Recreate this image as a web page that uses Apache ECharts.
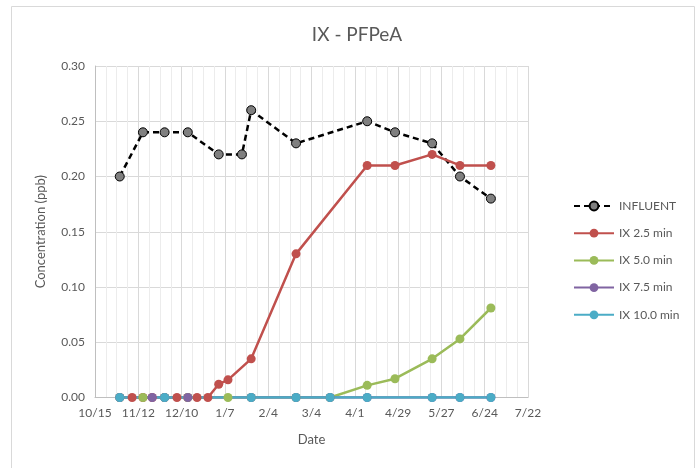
<!DOCTYPE html>
<html>
<head>
    <meta charset="utf-8" />
    <title>IX - PFPeA</title>
    <script src="https://cdn.jsdelivr.net/npm/echarts@6/dist/echarts.min.js"></script>
    <style>
        html, body { margin: 0; padding: 0; background: #fff; }
        #main { width: 700px; height: 468px; }
    </style>
</head>
<body>
    <div id="main"></div>
    <script type="text/javascript">
        // sampling dates (M/D, Oct 2018 - Jun 2019) and concentrations in ppb
        var influentDates = ['10/31', '11/15', '11/29', '12/14', '1/3', '1/18', '1/24', '2/22', '4/9', '4/27', '5/21', '6/8', '6/28'];
        var influentVals = [0.20, 0.24, 0.24, 0.24, 0.22, 0.22, 0.26, 0.23, 0.25, 0.24, 0.23, 0.20, 0.18];

        var ix25Dates = ['10/31', '11/8', '11/15', '11/21', '11/29', '12/7', '12/14', '12/20', '12/27', '1/3', '1/9', '1/24', '2/22', '4/9', '4/27', '5/21', '6/8', '6/28'];
        var ix25Vals = [0, 0, 0, 0, 0, 0, 0, 0, 0, 0.012, 0.016, 0.035, 0.13, 0.21, 0.21, 0.22, 0.21, 0.21];

        var ix50Dates = ['10/31', '11/15', '11/29', '12/14', '1/9', '1/24', '2/22', '3/16', '4/9', '4/27', '5/21', '6/8', '6/28'];
        var ix50Vals = [0, 0, 0, 0, 0, 0, 0, 0, 0.011, 0.017, 0.035, 0.053, 0.081];

        var ix75Dates = ['10/31', '11/21', '11/29', '12/14', '1/24', '2/22', '3/16', '4/9', '5/21', '6/8', '6/28'];
        var ix75Vals = [0, 0, 0, 0, 0, 0, 0, 0, 0, 0, 0];

        var ix100Dates = ['10/31', '11/29', '1/24', '2/22', '3/16', '4/9', '5/21', '6/8', '6/28'];
        var ix100Vals = [0, 0, 0, 0, 0, 0, 0, 0, 0];

        var seriesNames = ['INFLUENT', 'IX 2.5 min', 'IX 5.0 min', 'IX 7.5 min', 'IX 10.0 min'];
        var colors = ['#7f7f7f', '#C0504D', '#9BBB59', '#8064A2', '#4BACC6'];

        // x axis is days since 10/15/2018, ticks every 28 days
        var DAY = 86400000;
        var start = Date.UTC(2018, 9, 15);
        function toDay(md) {
            var p = md.split('/');
            var m = +p[0], d = +p[1];
            var y = m >= 10 ? 2018 : 2019;
            return Math.round((Date.UTC(y, m - 1, d) - start) / DAY);
        }
        function dayLabel(v) {
            var t = new Date(start + v * DAY);
            return (t.getUTCMonth() + 1) + '/' + t.getUTCDate();
        }
        function pairs(dates, vals) {
            return dates.map(function (d, i) { return [toDay(d), vals[i]]; });
        }

        var allData = [
            pairs(influentDates, influentVals),
            pairs(ix25Dates, ix25Vals),
            pairs(ix50Dates, ix50Vals),
            pairs(ix75Dates, ix75Vals),
            pairs(ix100Dates, ix100Vals)
        ];

        var font = 'Lato, "Open Sans", sans-serif';
        var textColor = '#595959';

        var series = seriesNames.map(function (name, i) {
            var s = {
                name: name,
                type: 'line',
                data: allData[i],
                symbol: 'circle',
                symbolSize: 9,
                animation: false,
                itemStyle: { color: colors[i] },
                lineStyle: { color: colors[i], width: 2.5 }
            };
            if (i === 0) {
                s.lineStyle = { color: '#000', width: 2.5, type: [6, 4] };
                s.itemStyle = { color: '#7f7f7f', borderColor: '#000', borderWidth: 1 };
            }
            return s;
        });

        var myChart = echarts.init(document.getElementById('main'));
        myChart.setOption({
            animation: false,
            textStyle: { fontFamily: font },
            title: {
                text: 'IX - PFPeA',
                left: 352,
                textAlign: 'center',
                top: 20,
                textStyle: { fontFamily: font, fontSize: 19, fontWeight: 'normal', color: textColor }
            },
            graphic: [{
                type: 'rect',
                shape: { x: 11.5, y: 6.5, width: 683, height: 480 },
                style: { fill: 'none', stroke: '#d9d9d9', lineWidth: 1 },
                silent: true
            }],
            legend: {
                orient: 'vertical',
                left: 568,
                top: 195,
                itemWidth: 40,
                itemHeight: 11,
                itemGap: 15.2,
                data: seriesNames,
                textStyle: { fontFamily: font, fontSize: 12, color: textColor }
            },
            grid: {
                left: 95,
                right: 172,
                top: 66,
                bottom: 70.5
            },
            xAxis: {
                type: 'value',
                min: 0,
                max: 280,
                interval: 28,
                name: 'Date',
                nameLocation: 'middle',
                nameGap: 36,
                nameTextStyle: { fontFamily: font, fontSize: 13, color: textColor },
                axisLine: { lineStyle: { color: '#bfbfbf', width: 1 } },
                axisTick: { show: false },
                axisLabel: {
                    formatter: dayLabel,
                    fontFamily: font, fontSize: 12, color: textColor, margin: 10
                },
                splitLine: { show: true, lineStyle: { color: '#d9d9d9', width: 1 } },
                minorTick: { show: false, splitNumber: 4 },
                minorSplitLine: { show: true, lineStyle: { color: '#ececec', width: 1 } }
            },
            yAxis: {
                type: 'value',
                min: 0,
                max: 0.3,
                interval: 0.05,
                name: 'Concentration (ppb)',
                nameLocation: 'middle',
                nameGap: 48,
                nameTextStyle: { fontFamily: font, fontSize: 13, color: textColor },
                axisLine: { show: true, lineStyle: { color: '#bfbfbf', width: 1 } },
                axisTick: { show: false },
                axisLabel: {
                    formatter: function (v) { return v.toFixed(2); },
                    fontFamily: font, fontSize: 12, color: textColor, margin: 10
                },
                splitLine: { show: true, lineStyle: { color: '#d9d9d9', width: 1 } }
            },
            series: series
        });
    </script>
</body>
</html>
